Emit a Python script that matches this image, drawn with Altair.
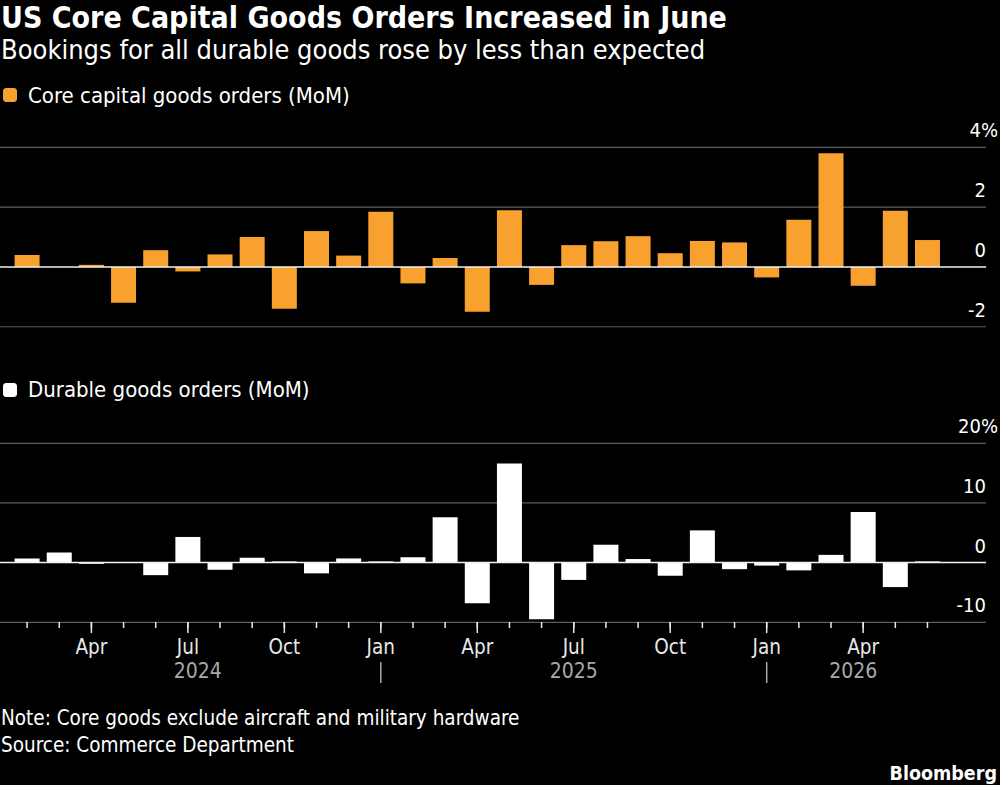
import altair as alt
import pandas as pd

# ---------------- data ----------------
months = ["2024-02", "2024-03", "2024-04", "2024-05", "2024-06", "2024-07", "2024-08",
          "2024-09", "2024-10", "2024-11", "2024-12", "2025-01", "2025-02", "2025-03",
          "2025-04", "2025-05", "2025-06", "2025-07", "2025-08", "2025-09", "2025-10",
          "2025-11", "2025-12", "2026-01", "2026-02", "2026-03", "2026-04", "2026-05",
          "2026-06"]
core = [0.4, 0.0, 0.07, -1.2, 0.56, -0.15, 0.42, 1.0, -1.4, 1.2, 0.38, 1.85, -0.55, 0.3,
        -1.5, 1.9, -0.6, 0.73, 0.86, 1.03, 0.46, 0.87, 0.82, -0.35, 1.58, 3.8, -0.63, 1.88, 0.9]
durable = [0.7, 1.7, -0.2, 0.0, -2.1, 4.3, -1.2, 0.8, 0.2, -1.8, 0.7, 0.2, 0.9, 7.6, -6.8,
           16.6, -9.5, -2.9, 3.0, 0.6, -2.2, 5.4, -1.1, -0.5, -1.3, 1.3, 8.5, -4.1, 0.2]
core_ticks = [-2, 0, 2, 4]
durable_ticks = [-10, 0, 10, 20]
month_names = {1: "Jan", 4: "Apr", 7: "Jul", 10: "Oct"}

title = "US Core Capital Goods Orders Increased in June"
subtitle = "Bookings for all durable goods rose by less than expected"
legend_core = "Core capital goods orders (MoM)"
legend_durable = "Durable goods orders (MoM)"
note = "Note: Core goods exclude aircraft and military hardware"
source = "Source: Commerce Department"
brand = "Bloomberg"

# ---------------- styles ----------------
FONT = "DejaVu Sans Condensed"
ORANGE = "#F9A12E"
GRID = "#5c5c5c"
TEXT = "#ffffff"
AXIS_TEXT = "#e8e8e8"
YEAR_TEXT = "#a8a8a8"
W, H = 1000, 785
GRID_END = 986
HALF_BAR = 0.38

df = pd.DataFrame({"month": months, "i": list(range(len(months))), "core": core, "durable": durable})
df["m"] = df["month"].str[5:].astype(int)
df["y"] = df["month"].str[:4]
df["label"] = df["m"].map(month_names).fillna("")
df["quarter"] = df["m"].isin(list(month_names.keys()))

# year labels centred between the January separators (or the outer bar edges)
jan_idx = df.loc[df["m"] == 1, "i"].tolist()
years = []
for yr, g in df.groupby("y"):
    lo = g["i"].min() if g["m"].min() == 1 else g["i"].min() - HALF_BAR
    nxt = [j for j in jan_idx if j > g["i"].max()]
    hi = nxt[0] if nxt else g["i"].max() + HALF_BAR
    years.append({"year": yr, "pos": (lo + hi) / 2})
years_df = pd.DataFrame(years)
sep_df = pd.DataFrame({"i": jan_idx})

xscale = alt.Scale(domain=[-0.687, 30.10], nice=False, zero=False)
X = alt.X("i:Q", scale=xscale, axis=None)

ys_top = alt.Scale(domain=[-17.33, 8.93], nice=False, zero=False)
ys_bot = alt.Scale(domain=[-37.27, 94.29], nice=False, zero=False)


def panel(field, color, ticks, yscale):
    tdf = pd.DataFrame({"v": ticks})
    top_val = max(ticks)
    tdf["lab"] = [f"{v}%" if v == top_val else str(v) for v in ticks]
    Y = alt.Y("v:Q", scale=yscale, axis=None)
    grid = alt.Chart(tdf).transform_filter("datum.v != 0").mark_rule(
        color=GRID, strokeWidth=1.2).encode(x=alt.value(0), x2=alt.value(GRID_END), y=Y)
    bars = alt.Chart(df).mark_bar(width=25, color=color).encode(
        x=X, y=alt.Y(f"{field}:Q", scale=yscale, axis=None), y2=alt.datum(0))
    zero = alt.Chart(tdf).transform_filter("datum.v == 0").mark_rule(
        color="#f2f2f2", strokeWidth=1.5).encode(x=alt.value(0), x2=alt.value(GRID_END), y=Y)
    labels = alt.Chart(tdf).transform_filter(f"datum.v != {top_val}").mark_text(
        align="right", baseline="alphabetic", dy=-10, fontSize=20, font=FONT, color=TEXT
    ).encode(x=alt.value(GRID_END), y=Y, text="lab:N")
    top_label = alt.Chart(tdf).transform_filter(f"datum.v == {top_val}").mark_text(
        align="right", baseline="alphabetic", dy=-10, fontSize=20, font=FONT, color=TEXT
    ).encode(x=alt.value(998), y=Y, text="lab:N")
    return [grid, bars, zero, labels, top_label]


top = alt.layer(*panel("core", ORANGE, core_ticks, ys_top))

bottom_layers = panel("durable", "#ffffff", durable_ticks, ys_bot)
ticks_short = alt.Chart(df).mark_rule(color=AXIS_TEXT, strokeWidth=1.5).encode(
    x=X, y=alt.value(622), y2=alt.value(628))
ticks_long = alt.Chart(df).transform_filter("datum.quarter").mark_rule(
    color=AXIS_TEXT, strokeWidth=1.5).encode(x=X, y=alt.value(622), y2=alt.value(633))
month_lbl = alt.Chart(df).transform_filter("datum.quarter").mark_text(
    baseline="alphabetic", fontSize=20.5, font=FONT, color=AXIS_TEXT).encode(
    x=X, y=alt.value(654), text="label:N")
year_lbl = alt.Chart(years_df).mark_text(
    baseline="alphabetic", fontSize=21, font=FONT, color=YEAR_TEXT).encode(
    x=alt.X("pos:Q", scale=xscale, axis=None), y=alt.value(678), text="year:N")
seps = alt.Chart(sep_df).mark_rule(color=YEAR_TEXT, strokeWidth=1.5).encode(
    x=X, y=alt.value(662), y2=alt.value(683))
bottom = alt.layer(*bottom_layers, ticks_short, ticks_long, month_lbl, year_lbl, seps)


def text_layer(txt, x, y, size, weight="normal", align="left", color=TEXT):
    return alt.Chart(pd.DataFrame({"t": [txt]})).mark_text(
        align=align, baseline="alphabetic", fontSize=size, fontWeight=weight,
        font=FONT, color=color).encode(x=alt.value(x), y=alt.value(y), text="t:N")


def swatch(color, y0):
    return alt.Chart(pd.DataFrame({"t": [0]})).mark_rect(color=color, cornerRadius=3).encode(
        x=alt.value(3), x2=alt.value(17), y=alt.value(y0), y2=alt.value(y0 + 14))


annots = [
    text_layer(title, 1, 28, 30, "bold"),
    text_layer(subtitle, 1, 59, 27),
    swatch(ORANGE, 88),
    text_layer(legend_core, 28, 103, 22),
    swatch("#ffffff", 383),
    text_layer(legend_durable, 28, 397, 22),
    text_layer(note, 1, 725, 20.5),
    text_layer(source, 1, 752, 20.5),
    text_layer(brand, 997, 780, 19.5, "bold", align="right"),
]

chart = alt.layer(top, bottom, *annots).resolve_scale(y="independent").properties(
    width=W, height=H, background="#000000", padding=0,
    autosize=alt.AutoSizeParams(type="none"),
).configure_view(stroke=None)

chart.save("out.html", embed_options={"renderer": "svg", "actions": False})
